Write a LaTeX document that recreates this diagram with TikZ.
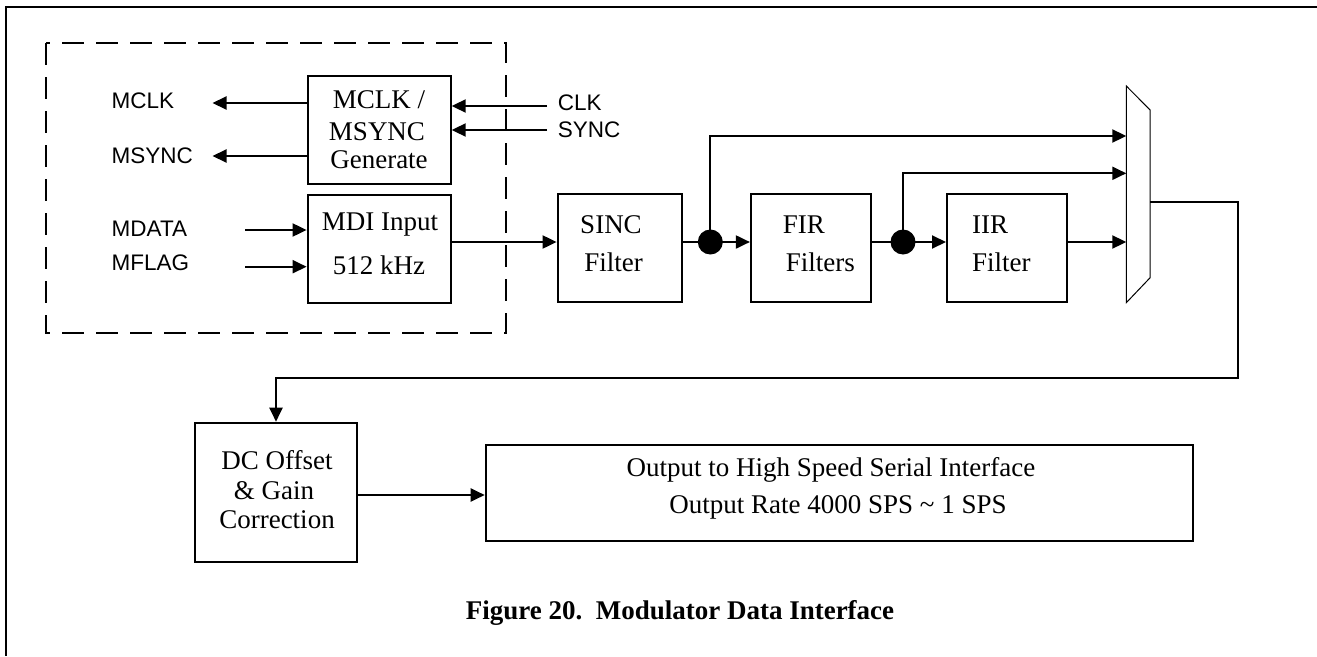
\documentclass[tikz,border=0pt]{standalone}
\usepackage{fontspec}
\setmainfont{Liberation Serif}
\newfontfamily\arialf{Liberation Sans}
\usetikzlibrary{arrows.meta,calc}
\begin{document}
\begin{tikzpicture}[x=1pt,y=-1pt,
  box/.style={draw,line width=2pt,inner sep=0pt,rectangle},
  arr/.style={line width=2pt,-{Triangle[length=14pt,width=13pt]}},
  ln/.style={line width=2pt},
  dotn/.style={circle,fill=black,inner sep=0pt,minimum size=25pt},
  st/.style={inner sep=0pt,font=\fontsize{27}{30}\selectfont},
  sf/.style={inner sep=0pt,font=\arialf\fontsize{22.5}{26}\selectfont,anchor=base west},
  captxt/.style={inner sep=0pt,font=\bfseries\fontsize{27}{30}\selectfont,anchor=base}]
\useasboundingbox (0,0) rectangle (1317,656);
% frame
\draw[ln] (1317,7) -- (6,7) -- (6,656);
% dashed region
\draw[line width=2pt,dash pattern=on 22pt off 12pt] (46.3,43.3) rectangle (505.9,333.3);
% boxes
\node[box,minimum width=143.1pt,minimum height=107.7pt] (gen) at (379.15,129.85) {};
\node[box,minimum width=143.1pt,minimum height=107.7pt] (mdi) at (379.15,248.85) {};
\node[box,minimum width=124.2pt,minimum height=108pt] (sinc) at (619.7,247.5) {};
\node[box,minimum width=119.8pt,minimum height=108pt] (fir) at (810.8,247.5) {};
\node[box,minimum width=120.2pt,minimum height=108pt] (iir) at (1007.1,247.5) {};
\node[box,minimum width=162pt,minimum height=139pt] (dc) at (276,492.2) {};
\node[box,minimum width=707.3pt,minimum height=95.4pt] (out) at (839.35,493) {};
% box texts
\node[st,anchor=base] (t1) at (379,108.3) {MCLK /};
\node[st,anchor=base] (t2) at (377,140) {MSYNC};
\node[st,anchor=base] (t3) at (379,168.3) {Generate};
\node[st,anchor=base] (t4) at (380,230.7) {MDI Input};
\node[st,anchor=base] (t5) at (379,274) {512 kHz};
\node[st,anchor=base] (t6) at (611,233.3) {SINC};
\node[st,anchor=base] (t7) at (613.5,271.7) {Filter};
\node[st,anchor=base west] (t8) at (782.7,233.3) {FIR};
\node[st,anchor=base west] (t9) at (785.7,271.7) {Filters};
\node[st,anchor=base west] (t10) at (972,233.3) {IIR};
\node[st,anchor=base west] (t11) at (972,271.7) {Filter};
\node[st,anchor=base] (t12) at (277,469.3) {DC Offset};
\node[st,anchor=base] (t13) at (274,499.3) {\& Gain};
\node[st,anchor=base] (t14) at (277,528.8) {Correction};
\node[st,anchor=base] (t15) at (831,476.7) {Output to High Speed Serial Interface};
\node[st,anchor=base] (t16) at (838,513.3) {Output Rate 4000 SPS \textasciitilde{} 1 SPS};
\node[captxt] (caption) at (680,619) {Figure 20.\ \ Modulator Data Interface};
% signal labels
\node[sf] (lmclk) at (111.5,108.3) {MCLK};
\node[sf] (lmsync) at (111.5,163.3) {MSYNC};
\node[sf] (lmdata) at (111.5,236.7) {MDATA};
\node[sf] (lmflag) at (111.5,270) {MFLAG};
\node[sf] (lclk) at (557.6,110) {CLK};
\node[sf] (lsync) at (557.6,137) {SYNC};
% coordinates
\coordinate (mclkend) at (212.5,103);
\coordinate (msyncend) at (212.5,156);
\coordinate (clkstart) at (547,106);
\coordinate (syncstart) at (547,130);
\coordinate (mdatastart) at (245,230);
\coordinate (mflagstart) at (245,266.7);
\coordinate (yl) at (0,242);
\coordinate (m1) at (1126.3,86);
\coordinate (m2) at (1150.1,110);
\coordinate (m3) at (1150.1,277.7);
\coordinate (m4) at (1126.3,302.7);
\coordinate (in1) at (1126.3,136);
\coordinate (in2) at (1126.3,173.3);
\coordinate (in3) at (1126.3,242);
\coordinate (muxout) at (1150.1,202.3);
\coordinate (c1) at (1238,377.7);
\coordinate (yo) at (0,495);
% mux
\draw[line width=1pt] (m1) -- (m2) -- (m3) -- (m4) -- cycle;
% dots
\node[dotn] (d1) at (710.3,242) {};
\node[dotn] (d2) at (903,242) {};
% connectors
\draw[arr] (gen.west |- mclkend) -- (mclkend);
\draw[arr] (gen.west |- msyncend) -- (msyncend);
\draw[arr] (clkstart) -- (gen.east |- clkstart);
\draw[arr] (syncstart) -- (gen.east |- syncstart);
\draw[arr] (mdatastart) -- (mdi.west |- mdatastart);
\draw[arr] (mflagstart) -- (mdi.west |- mflagstart);
\draw[arr] (mdi.east |- yl) -- (sinc.west |- yl);
\draw[ln] (sinc.east |- yl) -- (d1.center);
\draw[arr] (d1.center) -- (fir.west |- yl);
\draw[ln] (fir.east |- yl) -- (d2.center);
\draw[arr] (d2.center) -- (iir.west |- yl);
\draw[arr] (iir.east |- yl) -- (in3);
\draw[arr] (d1.center) |- (in1);
\draw[arr] (d2.center) |- (in2);
\draw[arr] (muxout) -| (c1) -| (dc.north);
\draw[arr] (dc.east |- yo) -- (out.west |- yo);
\end{tikzpicture}
\end{document}
